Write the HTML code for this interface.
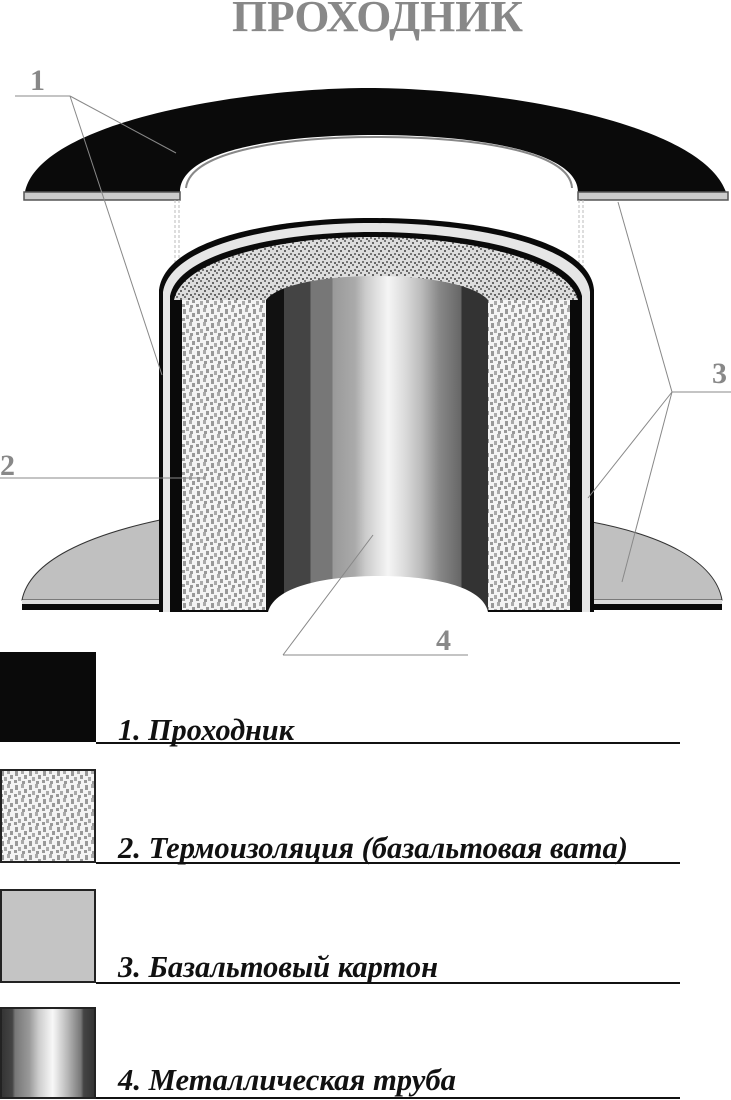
<!DOCTYPE html>
<html><head><meta charset="utf-8"><style>html,body{margin:0;padding:0;background:#fff}svg{display:block}</style></head>
<body>
<svg width="731" height="1100" viewBox="0 0 731 1100" xmlns="http://www.w3.org/2000/svg">
<defs>
<pattern id="sp" width="14" height="14" patternUnits="userSpaceOnUse">
<rect width="14" height="14" fill="#f4f4f4"/>
<rect x="1" y="1" width="3" height="5" fill="#999"/>
<rect x="7" y="0" width="3" height="4" fill="#aaa"/>
<rect x="10" y="5" width="3" height="4" fill="#999"/>
<rect x="4" y="7" width="3" height="4" fill="#aaa"/>
<rect x="0" y="10" width="3" height="3" fill="#999"/>
<rect x="8" y="11" width="3" height="3" fill="#999"/>
</pattern>
<pattern id="sp2" width="8" height="8" patternUnits="userSpaceOnUse">
<rect width="8" height="8" fill="#ddd"/>
<rect x="0" y="0" width="2" height="2" fill="#777"/>
<rect x="4" y="2" width="2" height="2" fill="#666"/>
<rect x="2" y="5" width="2" height="2" fill="#777"/>
<rect x="6" y="6" width="2" height="2" fill="#666"/>
</pattern>
<linearGradient id="tube" x1="0" x2="1" y1="0" y2="0">
<stop offset="0" stop-color="#111"/><stop offset="0.08" stop-color="#111"/>
<stop offset="0.08" stop-color="#444"/><stop offset="0.2" stop-color="#444"/>
<stop offset="0.2" stop-color="#777"/><stop offset="0.3" stop-color="#777"/>
<stop offset="0.3" stop-color="#999"/><stop offset="0.4" stop-color="#aaa"/>
<stop offset="0.45" stop-color="#ccc"/><stop offset="0.55" stop-color="#f5f5f5"/>
<stop offset="0.62" stop-color="#ddd"/><stop offset="0.7" stop-color="#bbb"/>
<stop offset="0.78" stop-color="#888"/><stop offset="0.88" stop-color="#666"/>
<stop offset="0.88" stop-color="#333"/><stop offset="1" stop-color="#333"/>
</linearGradient>
<linearGradient id="tube2" x1="0" x2="1" y1="0" y2="0">
<stop offset="0" stop-color="#333"/><stop offset="0.12" stop-color="#444"/>
<stop offset="0.15" stop-color="#777"/><stop offset="0.3" stop-color="#999"/>
<stop offset="0.4" stop-color="#ccc"/><stop offset="0.55" stop-color="#f8f8f8"/>
<stop offset="0.7" stop-color="#bbb"/><stop offset="0.85" stop-color="#777"/>
<stop offset="0.88" stop-color="#444"/><stop offset="1" stop-color="#333"/>
</linearGradient>
</defs>

<text x="232" y="31" textLength="291" lengthAdjust="spacingAndGlyphs" font-family="'Liberation Serif', serif" font-weight="bold" font-size="44" fill="#888">ПРОХОДНИК</text>

<!-- top cap -->
<path d="M25 192 C40 120 250 88 368 88 C490 88 700 120 726 192 L578 192 C578 150 470 135 376 135 C280 135 180 150 180 192 Z" fill="#0a0a0a"/>
<path d="M186 188 C190 150 290 137 376 137 C470 137 570 150 572 188" fill="none" stroke="#888" stroke-width="2"/>
<rect x="24" y="192" width="156" height="8" fill="#ccc" stroke="#555" stroke-width="1.5"/>
<rect x="578" y="192" width="150" height="8" fill="#ccc" stroke="#555" stroke-width="1.5"/>
<line x1="175" y1="200" x2="175" y2="280" stroke="#bbb" stroke-dasharray="3,2"/>
<line x1="179" y1="200" x2="179" y2="280" stroke="#bbb" stroke-dasharray="3,2"/>
<line x1="579" y1="200" x2="579" y2="280" stroke="#bbb" stroke-dasharray="3,2"/>
<line x1="583" y1="200" x2="583" y2="280" stroke="#bbb" stroke-dasharray="3,2"/>

<!-- bottom flange gray -->
<path d="M160 520 C90 535 30 560 22 600 L160 600 Z" fill="#c0c0c0" stroke="#333" stroke-width="1"/>
<path d="M592 522 C660 535 715 560 722 600 L592 600 Z" fill="#c0c0c0" stroke="#333" stroke-width="1"/>
<rect x="22" y="600" width="150" height="4" fill="#ddd"/>
<rect x="22" y="604" width="150" height="6" fill="#0a0a0a"/>
<rect x="580" y="600" width="142" height="4" fill="#ddd"/>
<rect x="580" y="604" width="142" height="6" fill="#0a0a0a"/>

<!-- dome -->
<path d="M159 612 L159 290 C165 240 270 218 372 218 C480 218 590 240 594 290 L594 612 Z" fill="#0a0a0a"/>
<path d="M163 612 L163 292 C170 246 272 223 372 223 C478 223 585 246 590 292 L590 612 Z" fill="#e6e6e6"/>
<path d="M170 612 L170 296 C178 254 276 232 372 232 C472 232 572 254 582 296 L582 612 Z" fill="#0a0a0a"/>
<path d="M174 300 C182 260 278 237 372 237 C470 237 568 260 578 300 Z" fill="url(#sp2)"/>
<rect x="182" y="300" width="84" height="310" fill="url(#sp)"/>
<rect x="488" y="300" width="82" height="310" fill="url(#sp)"/>
<!-- tube -->
<path d="M266 610 L266 300 C290 268 460 268 488 300 L488 610 Z" fill="url(#tube)"/>
<path d="M268 612 C275 585 330 576 378 576 C430 576 482 585 488 612 Z" fill="#fff"/>

<!-- leaders -->
<g stroke="#888" stroke-width="1" fill="none">
<line x1="15" y1="96" x2="70" y2="96"/>
<line x1="70" y1="96" x2="176" y2="153"/>
<line x1="70" y1="96" x2="162" y2="375"/>
<line x1="0" y1="478" x2="205" y2="478"/>
<line x1="672" y1="392" x2="731" y2="392"/>
<line x1="672" y1="392" x2="588" y2="498"/>
<line x1="672" y1="392" x2="622" y2="582"/>
<line x1="672" y1="392" x2="618" y2="202"/>
<line x1="283" y1="655" x2="468" y2="655"/>
<line x1="283" y1="655" x2="373" y2="535"/>
</g>
<g font-family="'Liberation Serif', serif" font-size="30" fill="#888" font-weight="bold">
<text x="30" y="90">1</text>
<text x="0" y="475">2</text>
<text x="712" y="383">3</text>
<text x="436" y="650">4</text>
</g>

<!-- legend -->
<rect x="0" y="652" width="96" height="90" fill="#0a0a0a"/>
<rect x="1" y="770" width="94" height="92" fill="url(#sp)" stroke="#222" stroke-width="2"/>
<rect x="1" y="890" width="94" height="92" fill="#c4c4c4" stroke="#222" stroke-width="2"/>
<rect x="1" y="1008" width="94" height="90" fill="url(#tube2)" stroke="#222" stroke-width="2"/>
<g stroke="#111" stroke-width="2">
<line x1="96" y1="743" x2="680" y2="743"/>
<line x1="96" y1="863" x2="680" y2="863"/>
<line x1="96" y1="983" x2="680" y2="983"/>
<line x1="96" y1="1098" x2="680" y2="1098"/>
</g>
<g font-family="'Liberation Serif', serif" font-style="italic" font-weight="bold" font-size="31" fill="#111">
<text x="118" y="740" textLength="176" lengthAdjust="spacingAndGlyphs">1. Проходник</text>
<text x="118" y="858" textLength="510" lengthAdjust="spacingAndGlyphs">2. Термоизоляция (базальтовая вата)</text>
<text x="118" y="977" textLength="320" lengthAdjust="spacingAndGlyphs">3. Базальтовый картон</text>
<text x="118" y="1090" textLength="338" lengthAdjust="spacingAndGlyphs">4. Металлическая труба</text>
</g>
</svg>
</body></html>
